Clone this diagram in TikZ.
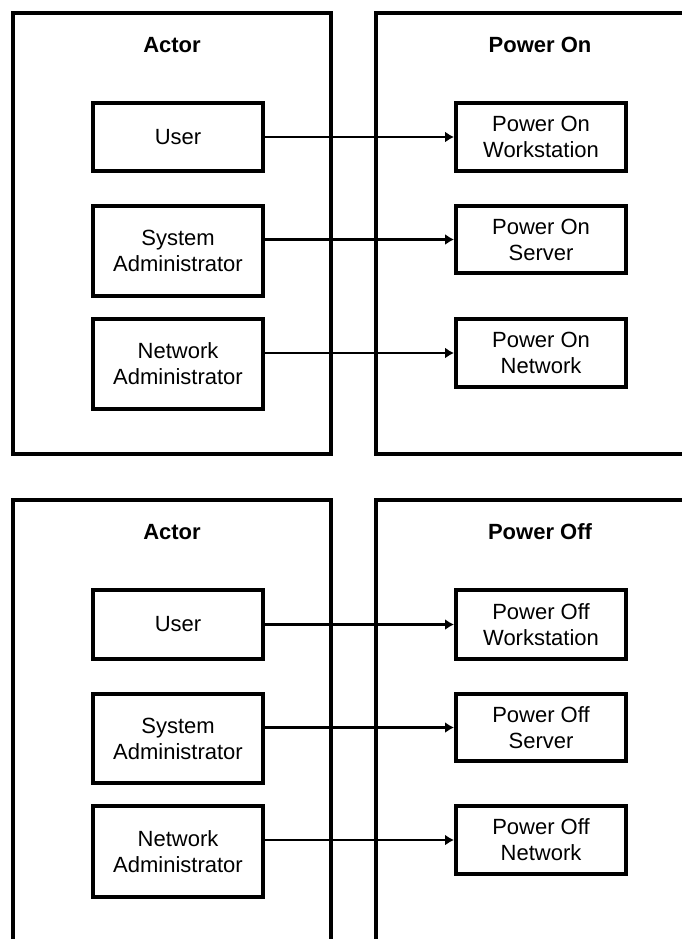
\documentclass[tikz,border=0pt]{standalone}
\usepackage{fontspec}
\setmainfont{Liberation Sans}
\usetikzlibrary{arrows.meta}
\tikzset{
  panel/.style={line width=4pt, line cap=rect},
  itembox/.style={draw, line width=4pt, minimum width=170pt, align=center,
    inner sep=0pt, font=\fontsize{22}{26}\selectfont},
  paneltitle/.style={font=\bfseries\fontsize{22}{26}\selectfont, inner sep=0pt},
  link/.style={line width=2.8pt, -{Latex[length=9pt,width=11pt]}}
}
\begin{document}
\begin{tikzpicture}[x=1pt,y=-1pt]
\useasboundingbox[fill=white] (0,0) rectangle (682,939);
% ---------- top panel ----------
\draw[panel] (13,13) rectangle (331,454);
\draw[panel] (690,13) -- (376,13) -- (376,454) -- (690,454);
\node[paneltitle] (actA) at (172,45) {Actor};
\node[paneltitle] (titA) at (540,45) {Power On};
\node[itembox, minimum height=68pt] (uA) at (178,137) {User};
\node[itembox, minimum height=90pt] (sA) at (178,251) {System\\Administrator};
\node[itembox, minimum height=90pt] (nA) at (178,364) {Network\\Administrator};
\node[itembox, minimum height=68pt] (wA) at (541,137) {Power On\\Workstation};
\node[itembox, minimum height=67pt] (vA) at (541,239.5) {Power On\\Server};
\node[itembox, minimum height=68pt] (kA) at (541,353) {Power On\\Network};
\draw[link] (uA.east |- wA.west) -- (wA.west);
\draw[link] (sA.east |- vA.west) -- (vA.west);
\draw[link] (nA.east |- kA.west) -- (kA.west);
% ---------- bottom panel ----------
\draw[panel] (13,950) -- (13,500) -- (331,500) -- (331,950);
\draw[panel] (376,950) -- (376,500) -- (690,500);
\node[paneltitle] (actB) at (172,532) {Actor};
\node[paneltitle] (titB) at (540,532) {Power Off};
\node[itembox, minimum height=69pt] (uB) at (178,624.5) {User};
\node[itembox, minimum height=89pt] (sB) at (178,738.5) {System\\Administrator};
\node[itembox, minimum height=91pt] (nB) at (178,851.5) {Network\\Administrator};
\node[itembox, minimum height=69pt] (wB) at (541,624.5) {Power Off\\Workstation};
\node[itembox, minimum height=67pt] (vB) at (541,727.5) {Power Off\\Server};
\node[itembox, minimum height=68pt] (kB) at (541,840) {Power Off\\Network};
\draw[link] (uB.east |- wB.west) -- (wB.west);
\draw[link] (sB.east |- vB.west) -- (vB.west);
\draw[link] (nB.east |- kB.west) -- (kB.west);
\end{tikzpicture}
\end{document}
